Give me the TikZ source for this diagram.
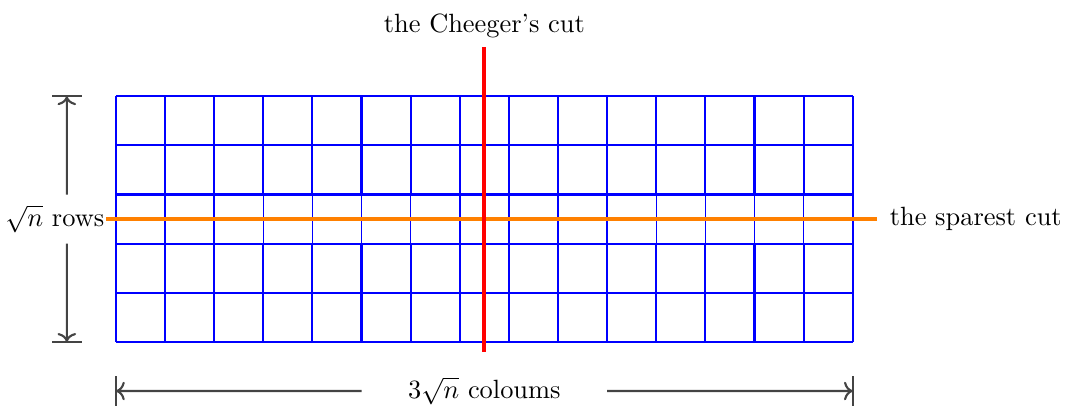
\documentclass[tikz,border=0pt]{standalone}
\usepackage{tikz}
\usetikzlibrary{arrows.meta}
\definecolor{cutorange}{HTML}{FF8000}
\definecolor{dimgray}{HTML}{444444}

\begin{document}
\begin{tikzpicture}[scale=0.654,
    gridline/.style={blue, thick},
    cutline/.style={ultra thick},
    dimline/.style={thick, color=dimgray}]
    \useasboundingbox (-2.36,-1.32) rectangle (19.32,6.96);

    % Grid: 15 columns, 5 rows
    \draw[gridline] (0,0) grid (15,2);
    \draw[gridline] (0,3) grid (15,5);
    \foreach \col in {0,...,15} {
        \draw[blue, semithick] (\col,2) -- (\col,3);
    }

    % The sparest cut (horizontal)
    \coordinate (sparseW) at (-0.2,2.5);
    \coordinate (sparseE) at (15.5,2.5);
    \draw[cutline, color=cutorange] (sparseW) -- (sparseE);
    \node[left, inner sep=0.5pt] (rowslabel) at (sparseW) {$\sqrt{n}$ rows};
    \node[right, inner sep=4.5pt] (sparestlabel) at (sparseE) {the sparest cut};

    % The Cheeger's cut (vertical)
    \coordinate (cheegerS) at (7.5,-0.2);
    \coordinate (cheegerN) at (7.5,6);
    \draw[cutline, color=red] (cheegerS) -- (cheegerN);
    \node[above] (cheegerlabel) at (cheegerN) {the Cheeger's cut};

    % Height marker
    \coordinate (rowtop) at (-1,5);
    \coordinate (rowbot) at (-1,0);
    \draw[dimline, ->] (-1,3) -- (rowtop);
    \draw[dimline, ->] (-1,2) -- (rowbot);
    \draw[dimline] (-1.3,5) -- (-0.7,5);
    \draw[dimline] (-1.3,0) -- (-0.7,0);

    % Width marker
    \coordinate (colleft) at (0,-1);
    \coordinate (colright) at (15,-1);
    \node (colslabel) at (7.5,-1) {$3\sqrt{n}$ coloums};
    \draw[dimline, ->] (5,-1) -- (colleft);
    \draw[dimline, ->] (10,-1) -- (colright);
    \draw[dimline] (0,-1.3) -- (0,-0.7);
    \draw[dimline] (15,-1.3) -- (15,-0.7);
\end{tikzpicture}
\end{document}
